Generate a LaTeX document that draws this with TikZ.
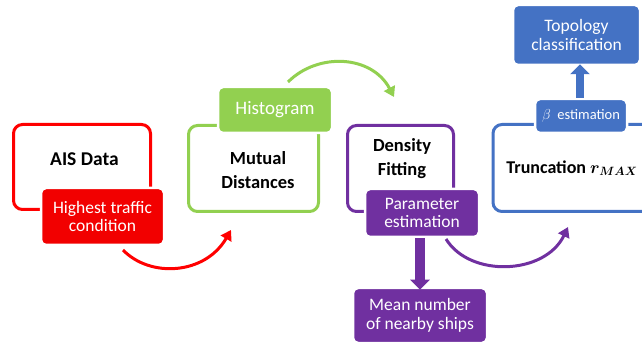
\documentclass[tikz,border=0pt]{standalone}
\usepackage{fontspec}
\setmainfont{Carlito}
\usetikzlibrary{arrows.meta}
\definecolor{cred}{HTML}{FF0000}
\definecolor{credfill}{HTML}{F20000}
\definecolor{cgreen}{HTML}{92D050}
\definecolor{cpurple}{HTML}{7030A0}
\definecolor{cblue}{HTML}{4472C4}
\begin{document}
\begin{tikzpicture}[x=1pt,y=-1pt,
  frame/.style={draw=#1,line width=3pt,rounded corners=9pt,inner sep=0pt},
  tag/.style={fill=#1,draw=white,line width=2.5pt,rounded corners=5pt,text=white,align=center,inner sep=0pt,font=\fontsize{17.5}{18.5}\selectfont},
  title/.style={align=center,inner sep=0pt,font=\bfseries\fontsize{18.5}{24}\selectfont},
  flow/.style={draw=#1,line width=3pt,-{Triangle[length=10pt,width=12pt]}},
  fat/.style 2 args={draw=#1,line width=#2,-{Triangle[length=10pt,width=19pt]}}
]
\path[use as bounding box] (0,0) rectangle (642,344);
\clip (0,0) rectangle (642,344);

% outline boxes
\node[frame=cred,minimum width=137pt,minimum height=85pt] (aisbox) at (82,167) {};
\node[frame=cgreen,minimum width=130pt,minimum height=86pt] (mutbox) at (253.5,168.5) {};
\node[frame=cpurple,minimum width=106pt,minimum height=86pt] (denbox) at (400.5,168.5) {};
\node[frame=cblue,minimum width=178pt,minimum height=87pt] (trubox) at (582,168) {};

% titles
\node[title,font=\bfseries\fontsize{19.5}{24}\selectfont] (ais) at (84.5,159) {AIS Data};
\node[title] (mut) at (258,170) {Mutual\\Distances};
\node[title] (den) at (402,159) {Density\\Fitting};
\node[title,font=\bfseries\boldmath\fontsize{18}{24}\selectfont] (tru) at (572,168) {Truncation $r_{MAX}$};

% filled tags
\node[tag=credfill,minimum width=123pt,minimum height=57pt] (high) at (102.5,216.5) {Highest traffic\\condition};
\node[tag=cgreen,minimum width=114pt,minimum height=46pt,font=\fontsize{19}{20}\selectfont] (hist) at (275,110) {Histogram};
\node[tag=cpurple,minimum width=114pt,minimum height=48pt] (param) at (422,213) {Parameter\\estimation};
\node[tag=cpurple,minimum width=134pt,minimum height=55pt] (mean) at (420,315.5) {Mean number\\of nearby ships};
\node[tag=cblue,minimum width=92pt,minimum height=34pt,font=\fontsize{14.5}{16}\selectfont] (beta) at (581,116) {$\beta$\ \ estimation};
\node[tag=cblue,minimum width=127pt,minimum height=60pt] (topo) at (576.5,35) {Topology\\classification};

% curved arrows
\coordinate (r1) at (123,250);
\coordinate (r2) at (231,230);
\draw[flow=cred] (r1) .. controls (150,278) and (205,275) .. (r2);
\coordinate (g1) at (288,82);
\coordinate (g2) at (394,97);
\draw[flow=cgreen] (g1) .. controls (318,52) and (372,55) .. (g2);
\coordinate (p1) at (446,239);
\coordinate (p2) at (568,227);
\draw[flow=cpurple] (p1) .. controls (470,278) and (545,275) .. (p2);

% straight fat arrows
\draw[fat={cpurple}{10pt}] (param.south -| 420,0) -- ([yshift=-3pt]mean.north -| 420,0);
\draw[fat={cblue}{8pt}] (beta.north -| 580,0) -- ([yshift=2pt]topo.south -| 580,0);
\end{tikzpicture}
\end{document}
